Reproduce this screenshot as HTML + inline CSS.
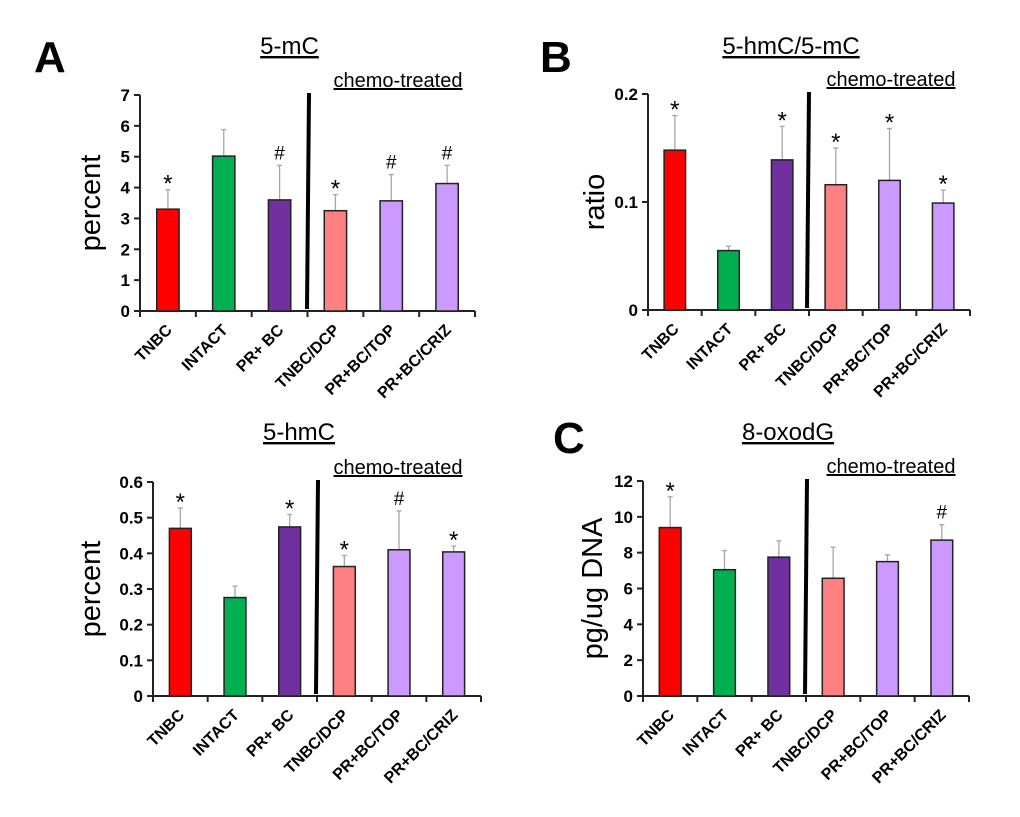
<!DOCTYPE html>
<html><head><meta charset="utf-8"><style>
body{margin:0;background:#fff;}
svg{display:block;font-family:"Liberation Sans",Arial,sans-serif;}
</style></head><body>
<svg id="fig" width="1020" height="817" viewBox="0 0 1020 817" xmlns="http://www.w3.org/2000/svg"></svg>
<script>
const categories = ["TNBC","INTACT","PR+ BC","TNBC/DCP","PR+BC/TOP","PR+BC/CRIZ"];
const colors = ["#ff0000","#00b050","#7030a0","#ff8080","#cc99ff","#cc99ff"];

const mcValues = [3.3, 5.02, 3.6, 3.25, 3.57, 4.13];
const mcErrTop = [3.93, 5.88, 4.72, 3.77, 4.42, 4.72];
const mcMarks = ["*","","#","*","#","#"];
const mcTicks = ["0","1","2","3","4","5","6","7"];

const ratioValues = [0.148, 0.055, 0.139, 0.116, 0.120, 0.099];
const ratioErrTop = [0.180, 0.059, 0.170, 0.150, 0.168, 0.111];
const ratioMarks = ["*","","*","*","*","*"];
const ratioTicks = ["0","0.1","0.2"];

const hmcValues = [0.47, 0.276, 0.474, 0.363, 0.41, 0.404];
const hmcErrTop = [0.527, 0.308, 0.509, 0.394, 0.519, 0.42];
const hmcMarks = ["*","","*","*","#","*"];
const hmcTicks = ["0","0.1","0.2","0.3","0.4","0.5","0.6"];

const oxoValues = [9.4, 7.05, 7.75, 6.57, 7.5, 8.7];
const oxoErrTop = [11.12, 8.12, 8.66, 8.3, 7.88, 9.56];
const oxoMarks = ["*","","","","","#"];
const oxoTicks = ["0","2","4","6","8","10","12"];

const svg = document.getElementById('fig');
const NS = "http://www.w3.org/2000/svg";
function mk(tag, attrs, parent, text){
  const e = document.createElementNS(NS, tag);
  for (const k in attrs) e.setAttribute(k, attrs[k]);
  if (text !== undefined) e.textContent = text;
  (parent||svg).appendChild(e);
  return e;
}

function panel(cfg){
  const g = mk('g', {});
  
  
  const {x0,x1,y0,y1,ymax} = cfg;
  const n = categories.length;
  const step = (x1-x0)/n;
  const xc = i => x0 + step*(i+0.5);
  const ys = v => y0 - (v/ymax)*(y0-y1);
  const bw = step*0.4;
  const t = mk('text',{x:(x0+x1)/2 - 18, y:cfg.titleY, 'font-size':24,'text-anchor':'middle','text-decoration':'underline'}, g, cfg.title);
   
  const ct = mk('text',{x:cfg.chemoX, y:y1-8, 'font-size':20,'text-anchor':'middle','text-decoration':'underline'}, g, 'chemo-treated');
   
  const yt = mk('text',{x:0,y:0,'font-size':29,'text-anchor':'middle',transform:`translate(${cfg.ytX},${(y0+y1)/2}) rotate(-90)`}, g, cfg.ylabel);
   
  cfg.ticks.forEach(tk=>{
    const v = parseFloat(tk), y = ys(v);
    mk('line',{x1:x0-6,x2:x0,y1:y,y2:y,stroke:'#222','stroke-width':2}, g);
    const tl = mk('text',{x:x0-10,y:y+6,'font-size':17,'font-weight':'bold','text-anchor':'end'}, g, tk);
     
  });
  mk('line',{x1:x0,x2:x0,y1:y1,y2:y0,stroke:'#222','stroke-width':2}, g);
  mk('line',{x1:x0,x2:x1,y1:y0,y2:y0,stroke:'#222','stroke-width':2}, g);
  for (let i=0;i<=n;i++){
    const x = x0+step*i;
    mk('line',{x1:x,x2:x,y1:y0,y2:y0+6,stroke:'#222','stroke-width':2}, g);
  }
  cfg.values.forEach((v,i)=>{
    const ex = xc(i);
    mk('line',{x1:ex,x2:ex,y1:ys(cfg.err[i]),y2:ys(v),stroke:'#a6a6a6','stroke-width':1.3}, g);
    mk('line',{x1:ex-2.5,x2:ex+2.5,y1:ys(cfg.err[i]),y2:ys(cfg.err[i]),stroke:'#a6a6a6','stroke-width':1.3}, g);
    const b = mk('rect',{x:ex-bw/2,y:ys(v),width:bw,height:y0-ys(v),fill:colors[i],stroke:'#222','stroke-width':1.5}, g);
    
    
    if (cfg.marks[i]){
      const star = cfg.marks[i]==='*';
      const mkT = mk('text',{x:ex,y:ys(cfg.err[i]) + (star?2:-6),'font-size':star?24:19,'text-anchor':'middle'}, g, cfg.marks[i]);
       
    }
    const xl = mk('text',{x:0,y:0,'font-size':16,'font-weight':'bold','text-anchor':'end',transform:`translate(${ex+5},${y0+20}) rotate(-45)`}, g, categories[i]);
     
  });
  const d = mk('line',{x1:cfg.divX+1,x2:cfg.divX-1,y1:y1-2,y2:y0-2,stroke:'#000','stroke-width':4}, g);
   
  if (cfg.letter){
    const L = mk('text',{x:cfg.letterX,y:cfg.letterY,'font-size':44,'font-weight':'bold'}, g, cfg.letter);
     
  }
}

panel({name:'panel-5mc',title:'5-mC',titleY:54,x0:140,x1:475,y0:311,y1:95,ymax:7,values:mcValues,err:mcErrTop,marks:mcMarks,ticks:mcTicks,ylabel:'percent',ytX:100,divX:308,chemoX:398,letter:'A',letterX:34,letterY:72});
panel({name:'panel-5hmc-5mc',title:'5-hmC/5-mC',titleY:54,x0:648,x1:970,y0:310,y1:94,ymax:0.2,values:ratioValues,err:ratioErrTop,marks:ratioMarks,ticks:ratioTicks,ylabel:'ratio',ytX:604,divX:808,chemoX:891,letter:'B',letterX:540,letterY:72});
panel({name:'panel-5hmc',title:'5-hmC',titleY:440,x0:153,x1:481,y0:696,y1:482,ymax:0.6,values:hmcValues,err:hmcErrTop,marks:hmcMarks,ticks:hmcTicks,ylabel:'percent',ytX:100,divX:317,chemoX:398,letter:null});
panel({name:'panel-8oxodg',title:'8-oxodG',titleY:440,x0:643,x1:969,y0:696,y1:481,ymax:12,values:oxoValues,err:oxoErrTop,marks:oxoMarks,ticks:oxoTicks,ylabel:'pg/ug DNA',ytX:602,divX:806,chemoX:891,letter:'C',letterX:553,letterY:453});
</script>
</body></html>
